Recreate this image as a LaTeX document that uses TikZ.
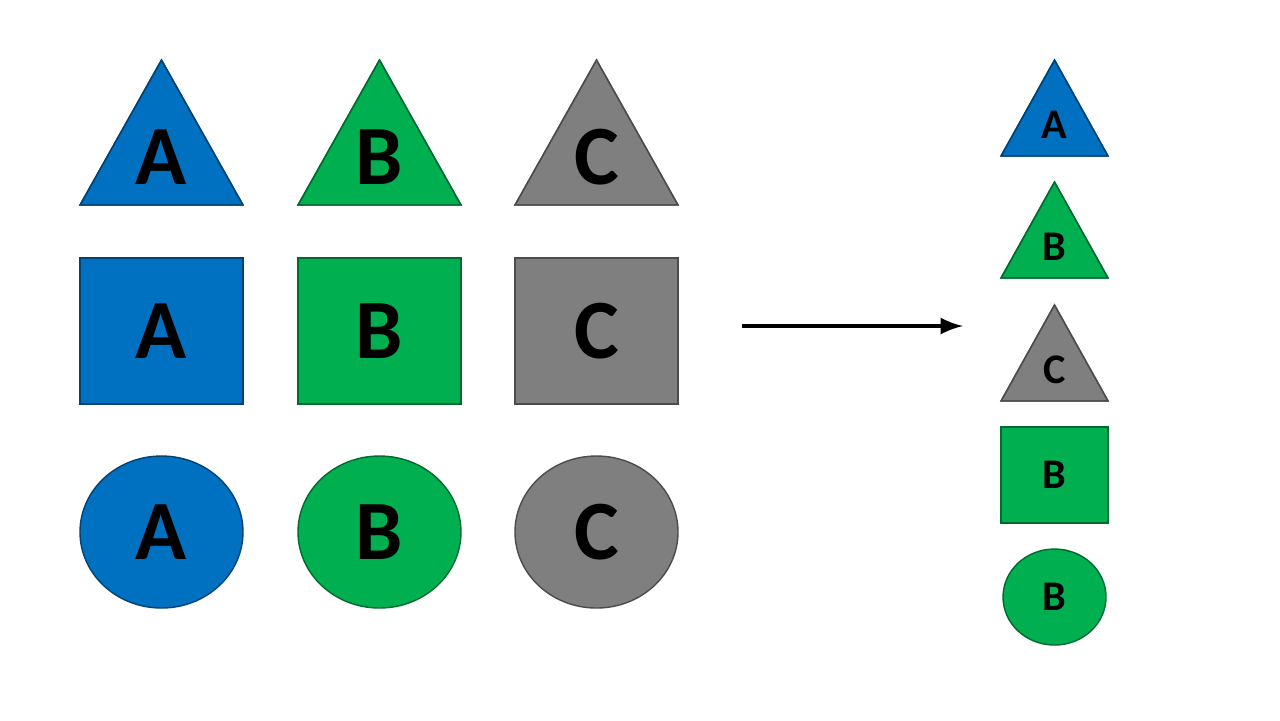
\documentclass[tikz,border=0pt]{standalone}
\usepackage{fontspec}
\setmainfont{Carlito}
\usetikzlibrary{shapes.geometric}
\definecolor{shblue}{HTML}{0070C0}
\definecolor{shgreen}{HTML}{00B050}
\definecolor{shgray}{HTML}{7F7F7F}
\tikzset{
  piece/.style={fill=#1, draw=#1!60!black, line width=0.4pt},
  biglbl/.style={font=\bfseries\fontsize{24}{24}\selectfont},
  smalllbl/.style={font=\bfseries\fontsize{12}{12}\selectfont}
}
% triangle: left x, top y, width, height, colour, letter, label style
\newcommand\shtri[7]{%
  \fill[piece=#5] (#1,-#2-#4) -- (#1+#3,-#2-#4) -- (#1+#3/2,-#2) -- cycle;
  \draw[#5!60!black, line width=0.4pt] (#1,-#2-#4) -- (#1+#3,-#2-#4) -- (#1+#3/2,-#2) -- cycle;
  \node[#7] at (#1+#3/2,-#2-0.67*#4) {#6};}
\newcommand\shsq[7]{%
  \draw[piece=#5] (#1,-#2) rectangle (#1+#3,-#2-#4);
  \node[#7] at (#1+#3/2,-#2-#4/2) {#6};}
\newcommand\shcirc[7]{%
  \draw[piece=#5] (#1+#3/2,-#2-#4/2) ellipse ({#3/2} and {#4/2});
  \node[#7] at (#1+#3/2,-#2-#4/2) {#6};}
\begin{document}
\begin{tikzpicture}[x=0.01cm,y=0.01cm]
\useasboundingbox (0,0) rectangle (1280,-720);
% left grid
\shtri{80}{60}{163}{145}{shblue}{A}{biglbl}
\shtri{298}{60}{163}{145}{shgreen}{B}{biglbl}
\shtri{515}{60}{163}{145}{shgray}{C}{biglbl}
\shsq{80}{258}{163}{146}{shblue}{A}{biglbl}
\shsq{298}{258}{163}{146}{shgreen}{B}{biglbl}
\shsq{515}{258}{163}{146}{shgray}{C}{biglbl}
\shcirc{80}{456}{163}{152}{shblue}{A}{biglbl}
\shcirc{298}{456}{163}{152}{shgreen}{B}{biglbl}
\shcirc{515}{456}{163}{152}{shgray}{C}{biglbl}
% arrow
\coordinate (from) at (742,-326);
\coordinate (to) at (963,-326);
\draw[-latex, line width=1.2pt] (from) -- (to);
% right column
\shtri{1001}{60}{107}{96}{shblue}{A}{smalllbl}
\shtri{1001}{182}{107}{96}{shgreen}{B}{smalllbl}
\shtri{1001}{305}{107}{96}{shgray}{C}{smalllbl}
\shsq{1001}{427}{107}{96}{shgreen}{B}{smalllbl}
\shcirc{1003}{549}{103}{96}{shgreen}{B}{smalllbl}
\end{tikzpicture}
\end{document}
